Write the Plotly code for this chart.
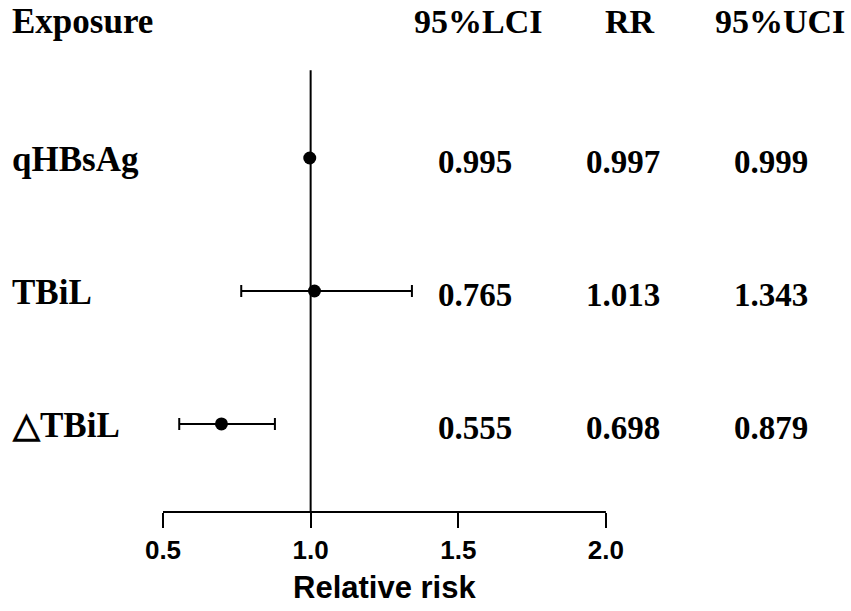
import plotly.graph_objects as go

exposures = ["qHBsAg", "TBiL", "\u25b3TBiL"]
lci = [0.995, 0.765, 0.555]
rr = [0.997, 1.013, 0.698]
uci = [0.999, 1.343, 0.879]
row_pos = [3, 2, 1]
x_ticks = [0.5, 1.0, 1.5, 2.0]
x_tick_labels = ["0.5", "1.0", "1.5", "2.0"]
headers = ["Exposure", "95%LCI", "RR", "95%UCI"]
x_title = "Relative risk"

SERIF = "Liberation Serif"
SANS = "Liberation Sans"

fig = go.Figure()
fig.add_trace(go.Scatter(
    x=rr, y=row_pos, mode="markers",
    marker=dict(color="black", size=13),
    error_x=dict(type="data", symmetric=False,
                 array=[u - r for u, r in zip(uci, rr)],
                 arrayminus=[r - l for r, l in zip(rr, lci)],
                 color="black", thickness=2, width=6),
    showlegend=False, hoverinfo="skip"))

# reference line at RR = 1
fig.add_shape(type="line", xref="x", yref="paper", x0=1, x1=1, y0=0, y1=0.863,
              line=dict(color="black", width=2), layer="below")
# axis baseline spanning the tick range
fig.add_shape(type="line", xref="x", yref="paper", x0=x_ticks[0], x1=x_ticks[-1], y0=0, y1=0,
              line=dict(color="black", width=2))

ann = []
col_x = [0.012, 0.5617, 0.740, 0.9166]
col_anchor = ["left", "center", "center", "center"]
col_size = [35, 34, 34, 34]
for h, cx, an, fs in zip(headers, col_x, col_anchor, col_size):
    ann.append(dict(text="<b>%s</b>" % h, xref="paper", yref="paper", x=cx, y=0.958,
                    xanchor=an, yanchor="middle", showarrow=False,
                    font=dict(family=SERIF, size=fs, color="black")))
value_cols = [0.558, 0.732, 0.906]
for name, yp, l, r, u in zip(exposures, row_pos, lci, rr, uci):
    ann.append(dict(text="<b>%s</b>" % name, xref="paper", yref="y", x=0.012, y=yp,
                    xanchor="left", yanchor="middle", showarrow=False, yshift=-2,
                    font=dict(family=SERIF, size=35, color="black")))
    for v, cx in zip([l, r, u], value_cols):
        ann.append(dict(text="<b>%.3f</b>" % v, xref="paper", yref="y", x=cx, y=yp,
                        xanchor="center", yanchor="middle", showarrow=False, yshift=-4,
                        font=dict(family=SERIF, size=33, color="black")))
# axis title centred under the drawn axis segment
ann.append(dict(text="<b>%s</b>" % x_title, xref="x", yref="paper",
                x=(x_ticks[0] + x_ticks[-1]) / 2, y=-0.148,
                xanchor="center", yanchor="middle", showarrow=False,
                font=dict(family=SANS, size=31, color="black")))

fig.update_layout(
    width=851, height=611,
    margin=dict(l=0, r=0, t=0, b=99),
    plot_bgcolor="white", paper_bgcolor="white",
    annotations=ann,
    xaxis=dict(range=[-0.052, 2.830], tickvals=x_ticks, ticktext=["<b>%s</b>" % t for t in x_tick_labels],
               showgrid=False, zeroline=False, showline=False,
               ticks="outside", ticklen=15, tickwidth=2, tickcolor="black",
               tickfont=dict(family=SANS, size=26, color="black")),
    yaxis=dict(range=[0.338, 4.188], showgrid=False, zeroline=False, showline=False,
               showticklabels=False, ticks=""),
)
fig.write_html("out.html", post_script="document.body.style.margin='0';",
               config=dict(displayModeBar=False))
